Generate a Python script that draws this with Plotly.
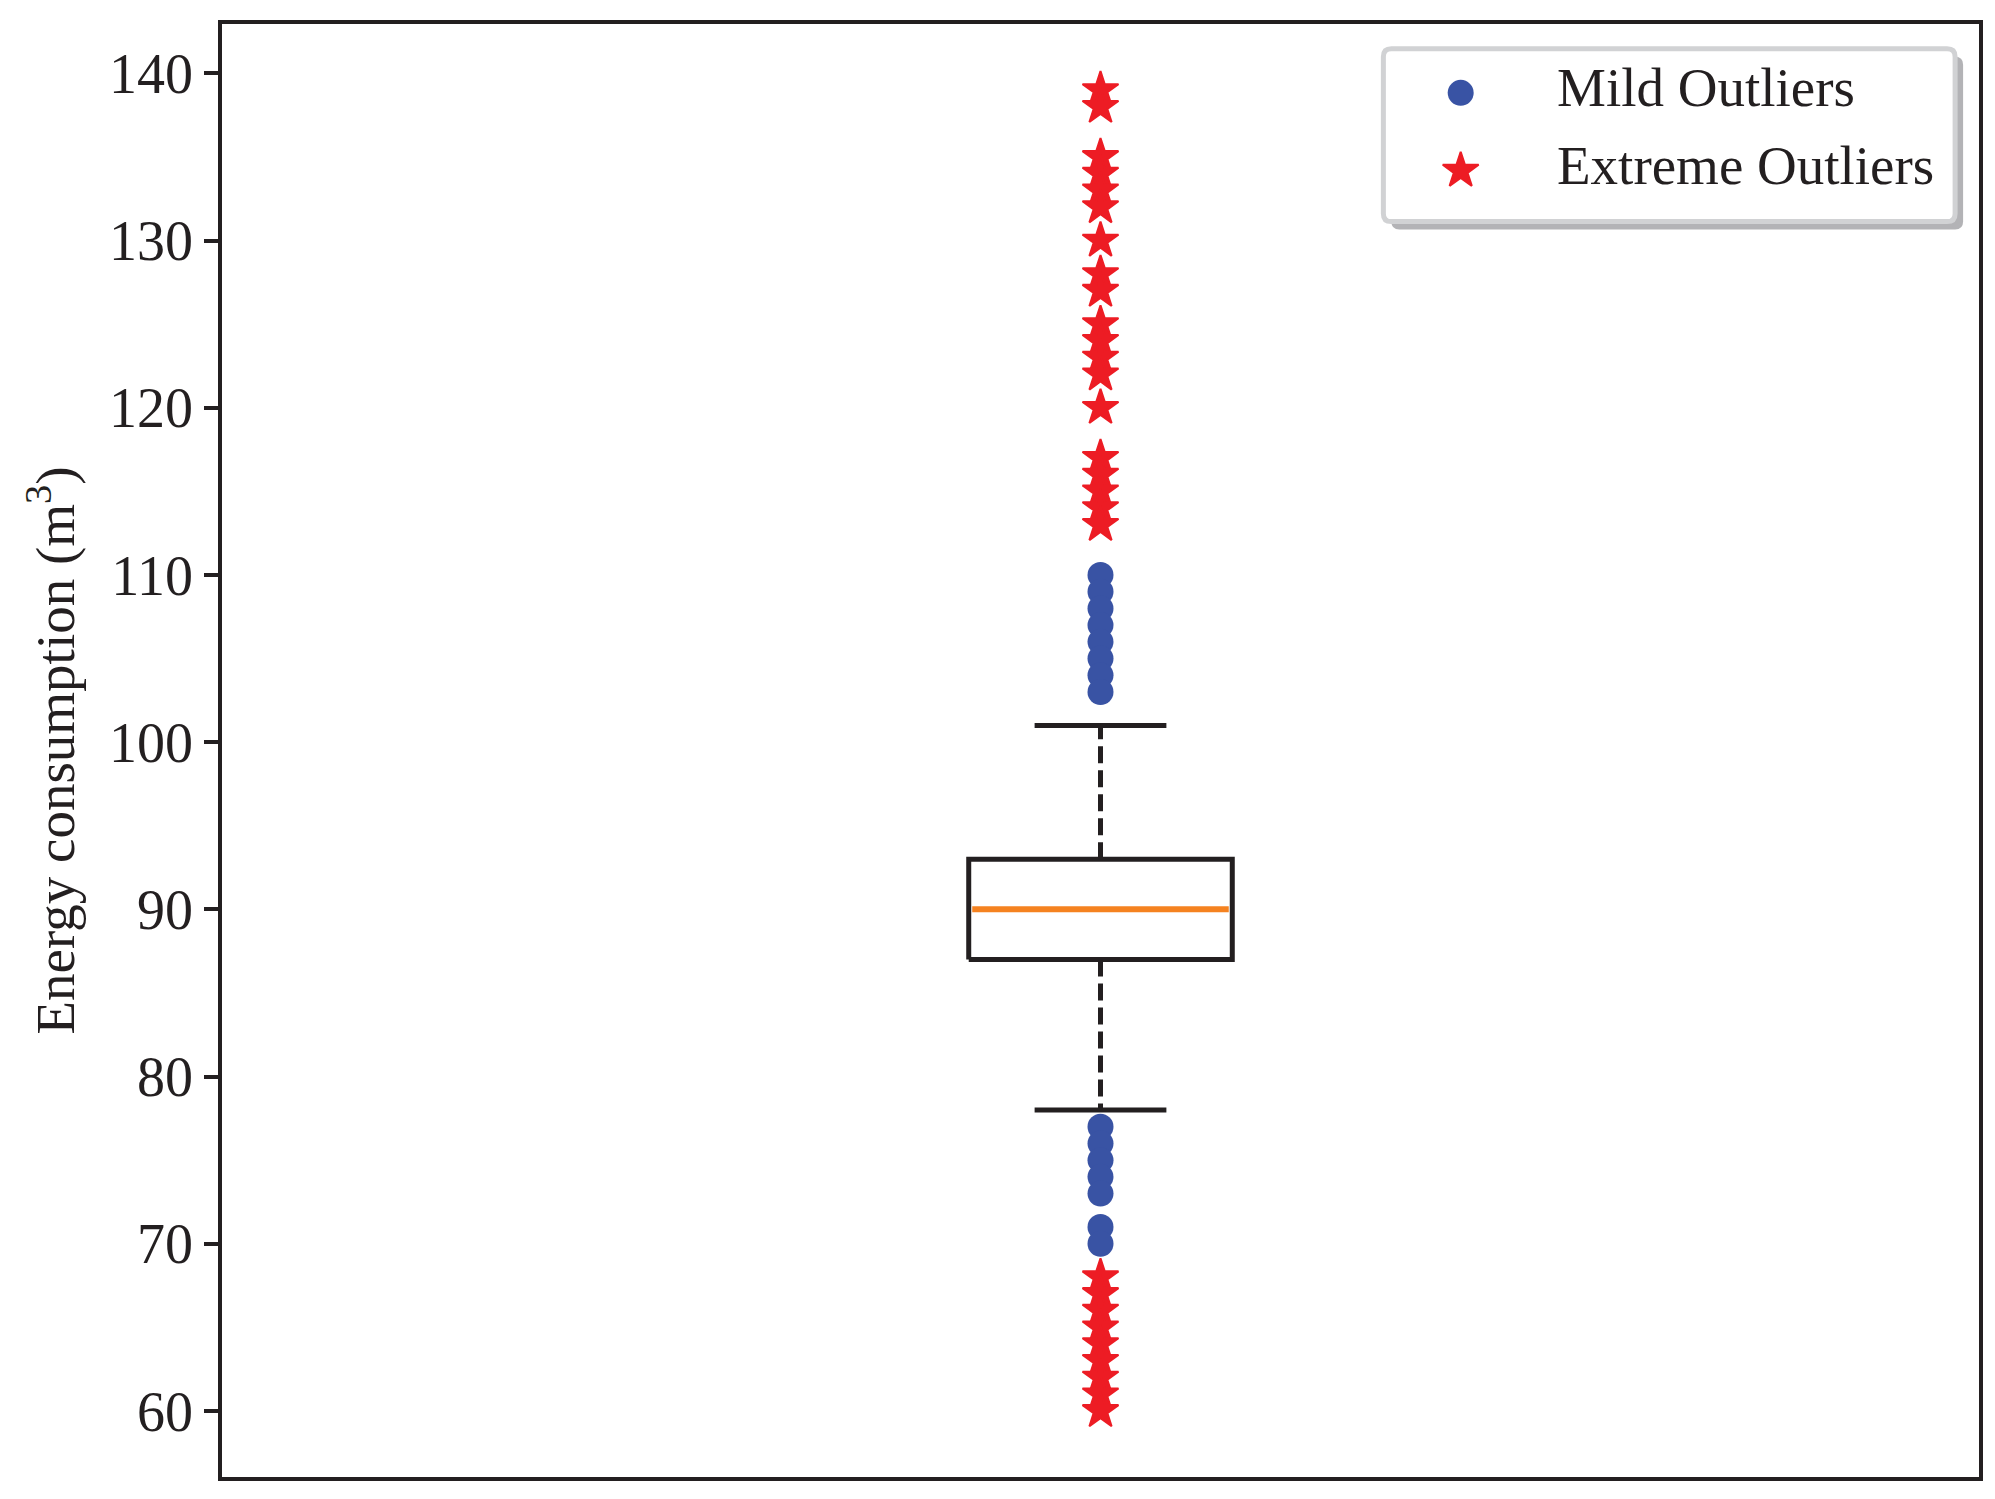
import plotly.graph_objects as go

# box statistics
box_pos = 1
q1 = 87
median = 90
q3 = 93
whisker_low = 78
whisker_high = 101

# outliers
mild_outliers = [110, 109, 108, 107, 106, 105, 104, 103, 77, 76, 75, 74, 73, 71, 70]
extreme_outliers = [139, 138, 135, 134, 133, 132, 130, 128, 127, 125, 124, 123, 122, 120,
                    117, 116, 115, 114, 113, 68, 67, 66, 65, 64, 63, 62, 61, 60]

y_ticks = [60, 70, 80, 90, 100, 110, 120, 130, 140]
legend_names = ['Mild Outliers', 'Extreme Outliers']

box_w = 0.15      # matplotlib default width for a single box
cap_w = box_w / 2

ink = '#231f20'
blue = '#3953a4'
red = '#ed1c24'
font = 'Liberation Serif, Times New Roman, serif'

fig = go.Figure()

# box outline
x0, x1 = box_pos - box_w / 2, box_pos + box_w / 2
fig.add_trace(go.Scatter(x=[x0, x1, x1, x0, x0], y=[q1, q1, q3, q3, q1], mode='lines',
                         line=dict(color=ink, width=5), hoverinfo='skip'))
# median
fig.add_trace(go.Scatter(x=[x0 + 0.002, x1 - 0.002], y=[median, median], mode='lines',
                         line=dict(color='#f58220', width=6), hoverinfo='skip'))
# whiskers (dashed)
for a, b in [(q3, whisker_high), (q1, whisker_low)]:
    fig.add_trace(go.Scatter(x=[box_pos, box_pos], y=[a, b], mode='lines',
                             line=dict(color=ink, width=5, dash='17px,7px'), hoverinfo='skip'))
# caps
for w in [whisker_high, whisker_low]:
    fig.add_trace(go.Scatter(x=[box_pos - cap_w / 2, box_pos + cap_w / 2], y=[w, w], mode='lines',
                             line=dict(color=ink, width=5), hoverinfo='skip'))

star = dict(symbol='star', size=27, color=red, line=dict(width=2, color=red))
dot = dict(symbol='circle', size=26, color=blue, line=dict(width=0))

fig.add_trace(go.Scatter(x=[box_pos] * len(mild_outliers), y=mild_outliers, mode='markers',
                         name=legend_names[0], marker=dot))
fig.add_trace(go.Scatter(x=[box_pos] * len(extreme_outliers), y=extreme_outliers, mode='markers',
                         name=legend_names[1], marker=star))

# --- hand-made legend (plotly caps legend symbol size) ---
L, R, T, B = 0.661, 0.9864, 0.983, 0.864
rx, ry = 8 / 1759, 8 / 1457
dx, dy = 8 / 1759, 8 / 1457


def rounded(l, r, t, b):
    return (f'M {l + rx},{b} L {r - rx},{b} Q {r},{b} {r},{b + ry} L {r},{t - ry} '
            f'Q {r},{t} {r - rx},{t} L {l + rx},{t} Q {l},{t} {l},{t - ry} '
            f'L {l},{b + ry} Q {l},{b} {l + rx},{b} Z')


fig.add_shape(type='path', xref='paper', yref='paper', path=rounded(L + dx, R + dx, T - dy, B - dy),
              fillcolor='#b3b3b6', line=dict(width=0), layer='below')
fig.add_shape(type='path', xref='paper', yref='paper', path=rounded(L, R, T, B),
              fillcolor='white', line=dict(color='#d1d2d4', width=5), layer='below')

sym_x = 0.705
row_y = [0.9526, 0.8991]
text_x = 0.7589
fig.add_trace(go.Scatter(x=[sym_x], y=[row_y[0]], xaxis='x2', yaxis='y2', mode='markers',
                         marker=dot, hoverinfo='skip'))
fig.add_trace(go.Scatter(x=[sym_x], y=[row_y[1]], xaxis='x2', yaxis='y2', mode='markers',
                         marker=star, hoverinfo='skip'))
for name, yy in zip(legend_names, row_y):
    fig.add_annotation(x=text_x, y=yy + 0.0034, xref='paper', yref='paper', text=name,
                       showarrow=False, xanchor='left', yanchor='middle',
                       font=dict(family=font, size=55, color=ink))

# body has an 8px margin in the exported page, so the figure is 8px smaller
fig.update_layout(
    width=1987, height=1491,
    margin=dict(l=214, r=16, t=12, b=22),
    paper_bgcolor='white', plot_bgcolor='white',
    font=dict(family=font, size=55, color=ink),
    showlegend=False,
    xaxis=dict(range=[0.5, 1.5], showticklabels=False, ticks='', showgrid=False, zeroline=False,
               showline=True, linecolor=ink, linewidth=3.5, mirror=True),
    yaxis=dict(range=[56.05, 142.95], tickvals=y_ticks, ticks='outside', ticklen=14, tickwidth=3.5,
               tickcolor=ink, showgrid=False, zeroline=False, showline=True, linecolor=ink,
               linewidth=3.5, mirror=True, tickfont=dict(family=font, size=56, color=ink),
               automargin=False,
               title=dict(text='Energy consumption (m<sup>3</sup>)', standoff=18,
                          font=dict(family=font, size=55, color=ink))),
    xaxis2=dict(range=[0, 1], overlaying='x', visible=False),
    yaxis2=dict(range=[0, 1], overlaying='y', visible=False),
)

fig.write_html('out.html')
